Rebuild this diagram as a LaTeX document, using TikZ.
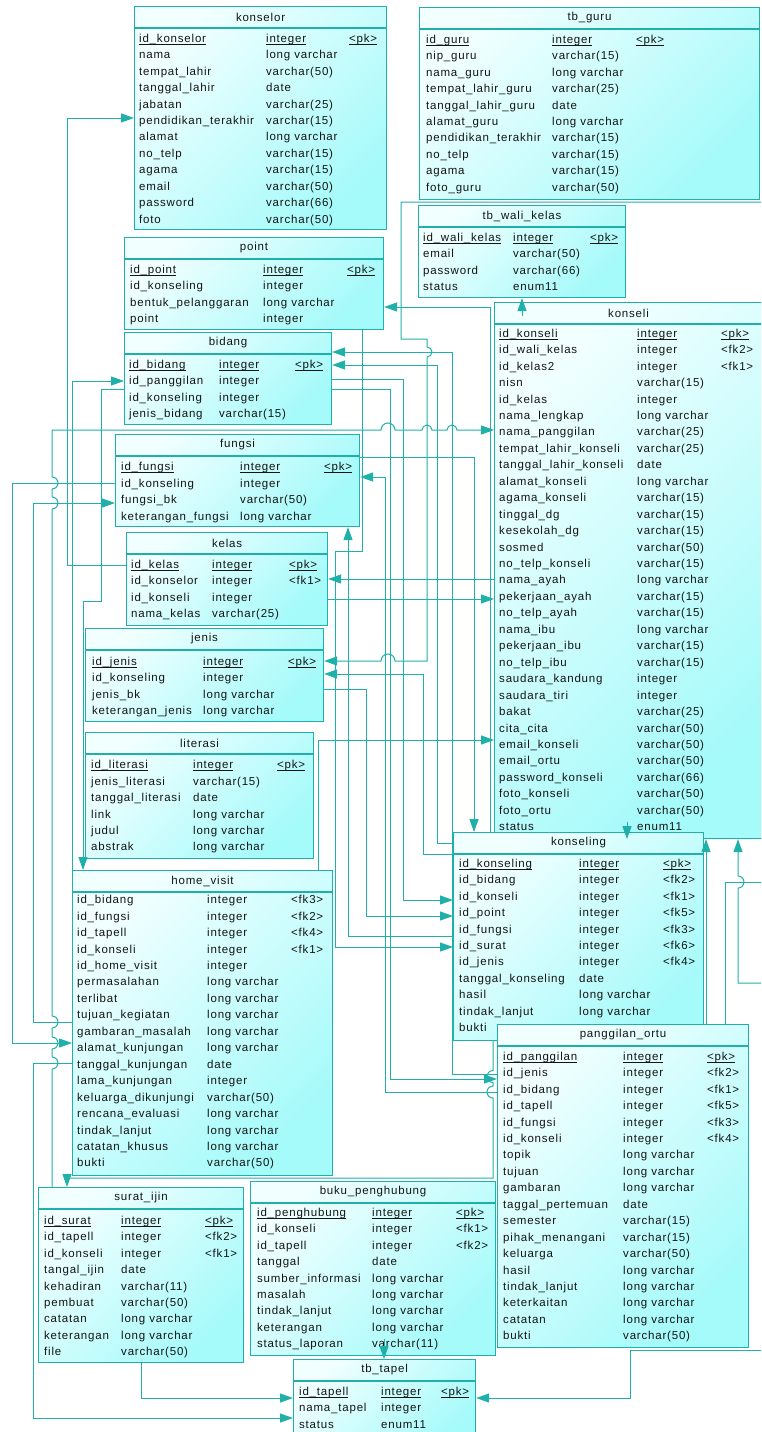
\documentclass[tikz,border=0pt]{standalone}
\usepackage{fontspec}
\setmainfont[LetterSpace=7]{Liberation Sans}
\usetikzlibrary{arrows.meta,calc}

\definecolor{erline}{RGB}{32,176,170}
\definecolor{erlight}{RGB}{242,255,255}
\definecolor{erdark}{RGB}{165,250,250}
\definecolor{ertext}{RGB}{20,20,20}

\newcommand{\erfont}{\fontsize{11.5}{16.45}\selectfont}
\newcommand{\erpk}[1]{\leavevmode\setbox0\hbox{#1}\rlap{\rule[-2.2pt]{\wd0}{0.6pt}}\box0}

\tikzset{
  tblbox/.style={draw=erline, line width=1.1pt, left color=erlight, right color=erdark,
    shading angle=45, anchor=north west, inner sep=0pt},
  tblline/.style={draw=erline, line width=1.1pt},
  ertitle/.style={font=\erfont, text=ertext, inner sep=0pt},
  rowtext/.style={anchor=north west, inner sep=0pt, font=\erfont, text=ertext},
  fk/.style={draw=erline, line width=1pt, -{Triangle[length=13pt,width=9pt]}},
  link/.style={draw=erline, line width=1pt}
}

% table box: name, x, y, width, height, title
\newcommand{\ertable}[6]{%
  \node[tblbox, minimum width=#4pt, minimum height=#5pt] (#1) at (#2,#3) {};
  \draw[tblline] ([yshift=-22pt]#1.north west) -- ([yshift=-22pt]#1.north east);
  \node[ertitle] at ([yshift=-11pt]#1.north) {#6};}
% table rows: x, y, first column, second column, rows
\newcommand{\errows}[5]{%
  \node[rowtext] at (#1,#2) {\begin{tabular}{@{}p{#3pt}@{}p{#4pt}@{}l@{}}#5\end{tabular}};}

\begin{document}
\begin{tikzpicture}[x=1pt, y=-1pt]
\useasboundingbox (0,0) rectangle (761,1432);
\clip (0,0) rectangle (761,1432);

%tables
\ertable{konselor}{134}{6}{252}{223}{konselor}
\errows{139}{30.5}{127}{83}{%
\erpk{id\_konselor} & \erpk{integer} & \erpk{<pk>}\\
nama & long varchar\\
tempat\_lahir & varchar(50)\\
tanggal\_lahir & date\\
jabatan & varchar(25)\\
pendidikan\_terakhir & varchar(15)\\
alamat & long varchar\\
no\_telp & varchar(15)\\
agama & varchar(15)\\
email & varchar(50)\\
password & varchar(66)\\
foto & varchar(50)}

\ertable{tb_guru}{419}{7}{340}{192}{tb\_guru}
\errows{426}{31.5}{126}{84}{%
\erpk{id\_guru} & \erpk{integer} & \erpk{<pk>}\\
nip\_guru & varchar(15)\\
nama\_guru & long varchar\\
tempat\_lahir\_guru & varchar(25)\\
tanggal\_lahir\_guru & date\\
alamat\_guru & long varchar\\
pendidikan\_terakhir & varchar(15)\\
no\_telp & varchar(15)\\
agama & varchar(15)\\
foto\_guru & varchar(50)}

\ertable{tb_wali_kelas}{418}{205}{207}{92}{tb\_wali\_kelas}
\errows{423}{229.5}{90}{77}{%
\erpk{id\_wali\_kelas} & \erpk{integer} & \erpk{<pk>}\\
email & varchar(50)\\
password & varchar(66)\\
status & enum11}

\ertable{point}{124}{237}{259}{92}{point}
\errows{130}{261.5}{133}{84}{%
\erpk{id\_point} & \erpk{integer} & \erpk{<pk>}\\
id\_konseling & integer\\
bentuk\_pelanggaran & long varchar\\
point & integer}

\ertable{bidang}{124}{332}{207}{92}{bidang}
\errows{129}{356.5}{90}{76}{%
\erpk{id\_bidang} & \erpk{integer} & \erpk{<pk>}\\
id\_panggilan & integer\\
id\_konseling & integer\\
jenis\_bidang & varchar(15)}

\ertable{fungsi}{115}{434}{244}{92}{fungsi}
\errows{121}{459}{119}{84}{%
\erpk{id\_fungsi} & \erpk{integer} & \erpk{<pk>}\\
id\_konseling & integer\\
fungsi\_bk & varchar(50)\\
keterangan\_fungsi & long varchar}

\ertable{kelas}{126}{532}{201}{93}{kelas}
\errows{131}{556.5}{81}{77}{%
\erpk{id\_kelas} & \erpk{integer} & \erpk{<pk>}\\
id\_konselor & integer & <fk1>\\
id\_konseli & integer\\
nama\_kelas & varchar(25)}

\ertable{jenis}{85}{628}{238}{93}{jenis}
\errows{92}{653.5}{111}{85}{%
\erpk{id\_jenis} & \erpk{integer} & \erpk{<pk>}\\
id\_konseling & integer\\
jenis\_bk & long varchar\\
keterangan\_jenis & long varchar}

\ertable{literasi}{85}{732}{228}{126}{literasi}
\errows{91}{757}{102}{84}{%
\erpk{id\_literasi} & \erpk{integer} & \erpk{<pk>}\\
jenis\_literasi & varchar(15)\\
tanggal\_literasi & date\\
link & long varchar\\
judul & long varchar\\
abstrak & long varchar}

\ertable{home_visit}{72}{870}{260}{305}{home\_visit}
\errows{77}{892}{130}{84}{%
id\_bidang & integer & <fk3>\\
id\_fungsi & integer & <fk2>\\
id\_tapell & integer & <fk4>\\
id\_konseli & integer & <fk1>\\
id\_home\_visit & integer\\
permasalahan & long varchar\\
terlibat & long varchar\\
tujuan\_kegiatan & long varchar\\
gambaran\_masalah & long varchar\\
alamat\_kunjungan & long varchar\\
tanggal\_kunjungan & date\\
lama\_kunjungan & integer\\
keluarga\_dikunjungi & varchar(50)\\
rencana\_evaluasi & long varchar\\
tindak\_lanjut & long varchar\\
catatan\_khusus & long varchar\\
bukti & varchar(50)}

\ertable{konseli}{494}{302}{268}{536}{konseli}
\errows{499}{325.5}{138}{84}{%
\erpk{id\_konseli} & \erpk{integer} & \erpk{<pk>}\\
id\_wali\_kelas & integer & <fk2>\\
id\_kelas2 & integer & <fk1>\\
nisn & varchar(15)\\
id\_kelas & integer\\
nama\_lengkap & long varchar\\
nama\_panggilan & varchar(25)\\
tempat\_lahir\_konseli & varchar(25)\\
tanggal\_lahir\_konseli & date\\
alamat\_konseli & long varchar\\
agama\_konseli & varchar(15)\\
tinggal\_dg & varchar(15)\\
kesekolah\_dg & varchar(15)\\
sosmed & varchar(50)\\
no\_telp\_konseli & varchar(15)\\
nama\_ayah & long varchar\\
pekerjaan\_ayah & varchar(15)\\
no\_telp\_ayah & varchar(15)\\
nama\_ibu & long varchar\\
pekerjaan\_ibu & varchar(15)\\
no\_telp\_ibu & varchar(15)\\
saudara\_kandung & integer\\
saudara\_tiri & integer\\
bakat & varchar(25)\\
cita\_cita & varchar(50)\\
email\_konseli & varchar(50)\\
email\_ortu & varchar(50)\\
password\_konseli & varchar(66)\\
foto\_konseli & varchar(50)\\
foto\_ortu & varchar(50)\\
status & enum11}

\ertable{konseling}{453}{832}{250}{208}{konseling}
\errows{459}{855.5}{120}{84}{%
\erpk{id\_konseling} & \erpk{integer} & \erpk{<pk>}\\
id\_bidang & integer & <fk2>\\
id\_konseli & integer & <fk1>\\
id\_point & integer & <fk5>\\
id\_fungsi & integer & <fk3>\\
id\_surat & integer & <fk6>\\
id\_jenis & integer & <fk4>\\
tanggal\_konseling & date\\
hasil & long varchar\\
tindak\_lanjut & long varchar\\
bukti & }

\ertable{panggilan_ortu}{497}{1024}{251}{323}{panggilan\_ortu}
\errows{503}{1048.5}{120}{84}{%
\erpk{id\_panggilan} & \erpk{integer} & \erpk{<pk>}\\
id\_jenis & integer & <fk2>\\
id\_bidang & integer & <fk1>\\
id\_tapell & integer & <fk5>\\
id\_fungsi & integer & <fk3>\\
id\_konseli & integer & <fk4>\\
topik & long varchar\\
tujuan & long varchar\\
gambaran & long varchar\\
taggal\_pertemuan & date\\
semester & varchar(15)\\
pihak\_menangani & varchar(15)\\
keluarga & varchar(50)\\
hasil & long varchar\\
tindak\_lanjut & long varchar\\
keterkaitan & long varchar\\
catatan & long varchar\\
bukti & varchar(50)}

\ertable{surat_ijin}{38}{1187}{205}{175}{surat\_ijin}
\errows{44}{1212.5}{77}{84}{%
\erpk{id\_surat} & \erpk{integer} & \erpk{<pk>}\\
id\_tapell & integer & <fk2>\\
id\_konseli & integer & <fk1>\\
tangal\_ijin & date\\
kehadiran & varchar(11)\\
pembuat & varchar(50)\\
catatan & long varchar\\
keterangan & long varchar\\
file & varchar(50)}

\ertable{buku_penghubung}{250}{1181}{245}{174}{buku\_penghubung}
\errows{257}{1204.5}{115}{84}{%
\erpk{id\_penghubung} & \erpk{integer} & \erpk{<pk>}\\
id\_konseli & integer & <fk1>\\
id\_tapell & integer & <fk2>\\
tanggal & date\\
sumber\_informasi & long varchar\\
masalah & long varchar\\
tindak\_lanjut & long varchar\\
keterangan & long varchar\\
status\_laporan & varchar(11)}

\ertable{tb_tapel}{293}{1359}{182}{90}{tb\_tapel}
\errows{299}{1383.5}{82}{60}{%
\erpk{id\_tapell} & \erpk{integer} & \erpk{<pk>}\\
nama\_tapel & integer\\
status & enum11}

%ends of references leaving the picture
\coordinate (edgeA) at (761,202);
\coordinate (edgeB) at (761,882);
\coordinate (edgeC) at (761,983);
\coordinate (edgeD) at (761,1350);

%references, left side
\draw[fk] (kelas.west |- 0,565) -| (67,118) -- (konselor.west |- 0,118);
\draw[fk] (home_visit.north west) |- (bidang.west |- 0,381);
\draw[fk] (bidang.west |- 0,389) -| (101,601) -- (83,601) -- (83,0 |- home_visit.north);
\draw[fk] (fungsi.west |- 0,483) -| (12,1043) -- (home_visit.west |- 0,1043);
\draw[fk] (home_visit.west |- 0,1022) -| (33,503) -- (fungsi.west |- 0,503);
\draw[fk] (home_visit.west |- 0,1063) -| (33,1418) -- (tb_tapel.west |- 0,1418);
\draw[fk] (52,0 |- surat_ijin.north) -- (52,1069) arc[start angle=90, end angle=-90, radius=6]
  -- (52,1049) arc[start angle=90, end angle=-90, radius=6]
  -- (52,1028) arc[start angle=90, end angle=-90, radius=6]
  -- (52,509) arc[start angle=90, end angle=-90, radius=6]
  -- (52,489) arc[start angle=90, end angle=-90, radius=6]
  -- (52,430) -- (381,430) arc[start angle=180, end angle=360, radius=7]
  -- (422,430) arc[start angle=180, end angle=360, radius=5]
  -- (447,430) arc[start angle=180, end angle=360, radius=5]
  -- (konseli.west |- 0,430);
\draw[fk] (493,0 |- konseling.south) -- (493,1070.5) arc[start angle=-90, end angle=-270, radius=6]
  -- (493,1086) arc[start angle=-90, end angle=-270, radius=6]
  -- (493,1178) -- (67,1178) -- (67,0 |- surat_ijin.north);
\draw[fk] (141,0 |- surat_ijin.south) |- (tb_tapel.west |- 0,1398);
\draw[fk] ($(buku_penghubung.south -| 384,0)+(0,-17)$) -- (tb_tapel.north -| 384,0);

%references, middle
\draw[fk] (kelas.east |- 0,599) -- (konseli.west |- 0,599);
\draw[fk] (konseli.west |- 0,579) -- (kelas.east |- 0,579);
\draw[fk] (318,0 |- home_visit.north) |- (konseli.west |- 0,740);
\draw[fk] (jenis.east |- 0,689) -| (366,916) -- (konseling.west |- 0,916);
\draw[fk] (konseling.west |- 0,854) -| (423,674) -- (jenis.east |- 0,674);
\draw[fk] (edgeA) -| (401,339) -- (427,339) -- (427,347) arc[start angle=-90, end angle=90, radius=5]
  -- (427,661) -- (395,661) arc[start angle=0, end angle=-180, radius=7]
  -- (jenis.east |- 0,661);
\draw[fk] (panggilan_ortu.west |- 0,1074) -| (452,352) -- (bidang.east |- 0,352);
\draw[fk] (konseling.west |- 0,843) -| (437,365) -- (bidang.east |- 0,365);
\draw[fk] (bidang.east |- 0,379) -| (403,900) -- (konseling.west |- 0,900);
\draw[fk] (bidang.east |- 0,389) -| (390,1079) -- (panggilan_ortu.west |- 0,1079);
\draw[fk] (panggilan_ortu.west |- 0,1092) -| (385,477) -- (fungsi.east |- 0,477);
\draw[fk] (fungsi.east |- 0,457) -| (474,0 |- konseling.north);
\draw[fk] (konseling.west |- 0,936) -| (348,0 |- fungsi.south);
\draw[fk] (362,0 |- point.south) |- (335,551) |- (konseling.west |- 0,947);
\draw[fk] (490,0 |- konseling.north) |- (point.east |- 0,307);

%references, right side
\draw[fk] ($(konseli.north -| 522,0)+(0,14)$) -- (tb_wali_kelas.south -| 522,0);
\draw[fk] ($(konseli.south -| 627,0)+(0,-17)$) -- (konseli.south -| 627,0);
\draw[fk] (panggilan_ortu.north -| 706,0) -- (konseli.south -| 706,0);
\draw[fk] (edgeC) -- (738,983) -- (738,888) arc[start angle=90, end angle=-90, radius=6]
  -- (konseli.south -| 738,0);
\draw[link] (panggilan_ortu.north -| 725,0) |- (edgeB);
\draw[fk] (edgeD) -| (630,1398) -- (tb_tapel.east |- 0,1398);
\end{tikzpicture}
\end{document}
